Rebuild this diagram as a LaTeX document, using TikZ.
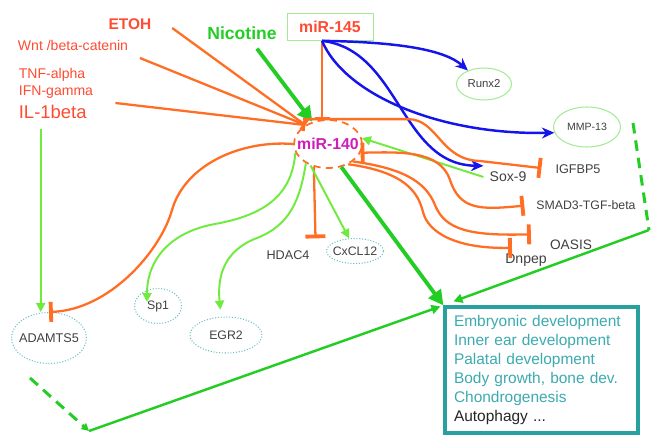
\documentclass[tikz,border=0pt]{standalone}
\usepackage{fontspec}
\setmainfont{Liberation Sans}
\usetikzlibrary{arrows.meta,shapes.geometric}

\definecolor{inhib}{RGB}{255,110,35}
\definecolor{actgreen}{RGB}{110,235,60}
\definecolor{fbgreen}{RGB}{35,205,35}
\definecolor{mirblue}{RGB}{20,20,235}
\definecolor{stimred}{RGB}{255,75,50}
\definecolor{mirpink}{RGB}{205,30,185}
\definecolor{boxteal}{RGB}{40,160,160}
\definecolor{outteal}{RGB}{60,170,175}
\definecolor{dotcyan}{RGB}{110,190,200}
\definecolor{palegreen}{RGB}{165,235,150}

\newcommand{\inell}[1]{\makebox[0pt]{#1}}

\begin{document}
\begin{tikzpicture}[
    x=0.02cm, y=-0.02cm,
    >={Triangle[length=1.8mm,width=1.8mm]},
    stim/.style={text=stimred, font=\fontsize{8}{9}\selectfont, inner sep=2pt},
    mirna/.style={font=\bfseries\fontsize{9}{10}\selectfont},
    gene/.style={text=black!75, font=\fontsize{7.2}{8}\selectfont},
    target/.style={ellipse, draw=#1, line width=0.6pt, text=black!75,
        inner sep=0pt, font=\fontsize{7}{8}\selectfont},
    cyto/.style={target=dotcyan, densely dotted},
    block/.style={draw=inhib, line width=1.3pt, -{Bar[width=4mm,line width=2.2pt]}},
    dual/.style={{Bar[width=4mm,line width=2.2pt]}-{Bar[width=4mm,line width=2.2pt]}},
    act/.style={draw=actgreen, line width=1.1pt, ->},
    strongact/.style={draw=fbgreen, line width=2.2pt, -{Triangle[length=3mm,width=3mm]}},
    push/.style={draw=mirblue, line width=1.4pt, -{Stealth[length=2.5mm,width=2.2mm]}},
    feed/.style={draw=fbgreen, line width=1.4pt}
]
\useasboundingbox (0,0) rectangle (651,435);

% upstream signals
\node[stim, font=\bfseries\fontsize{8.8}{10}\selectfont] (etoh) at (130,24) {ETOH};
\node[stim] (wnt) at (73,45) {Wnt /beta-catenin};
\node[stim, anchor=west] (tnf) at (15,75) {TNF-alpha};
\node[stim, anchor=west] (ifn) at (15,92) {IFN-gamma};
\node[stim, anchor=west, font=\fontsize{10.5}{12}\selectfont] (il1) at (15,112) {IL-1beta};
\node[mirna, text=fbgreen, font=\bfseries\fontsize{10}{11}\selectfont] (nicotine) at (242,33) {Nicotine};

% the two microRNAs
\node[mirna, text=stimred, draw=palegreen, minimum width=1.72cm, minimum height=0.54cm] (mir145) at (330,27) {miR-145};
\node[mirna, ellipse, draw=inhib, line width=1pt, dash pattern=on 4pt off 3pt,
    minimum width=1.36cm, minimum height=0.96cm, inner sep=0pt, text=mirpink] (mir140) at (328,144) {\inell{miR-140}};

% targets
\node[target=palegreen, minimum width=1.1cm, minimum height=0.64cm, font=\fontsize{6.5}{7}\selectfont] (runx2) at (484,84) {\inell{Runx2}};
\node[target=palegreen, minimum width=1.34cm, minimum height=0.8cm, font=\fontsize{6}{7}\selectfont] (mmp13) at (587,127) {\inell{MMP-13}};
\node[gene] (igfbp5) at (578,169) {IGFBP5};
\node[gene, font=\fontsize{8}{9}\selectfont] (sox9) at (508,177) {Sox-9};
\node[gene, font=\fontsize{7}{8}\selectfont] (smad3) at (586,205) {SMAD3-TGF-beta};
\node[gene, font=\fontsize{7.8}{9}\selectfont] (oasis) at (571,245) {OASIS};
\node[gene, font=\fontsize{8}{9}\selectfont] (dnpep) at (526,260) {Dnpep};
\node[gene] (hdac4) at (288,255) {HDAC4};
\node[cyto, minimum width=1.14cm, minimum height=0.5cm] (cxcl12) at (355,251) {\inell{CxCL12}};
\node[cyto, minimum width=0.94cm, minimum height=0.7cm] (sp1) at (158,306) {\inell{Sp1}};
\node[cyto, minimum width=1.44cm, minimum height=0.72cm] (egr2) at (226,335) {\inell{EGR2}};
\node[cyto, minimum width=1.5cm, minimum height=1.02cm, font=\fontsize{7.2}{8}\selectfont] (adamts5) at (49,338) {\inell{ADAMTS5}};

% outcomes
\node[draw=boxteal, line width=1.8pt, minimum width=3.86cm, minimum height=2.52cm,
    text width=3.5cm, align=left, text=outteal, font=\fontsize{8.8}{10.8}\selectfont] (outcome) at (541.5,370)
    {Embryonic development\\Inner ear development\\Palatal development\\Body growth, bone dev.\\Chondrogenesis\\\textcolor{black!85}{Autophagy ...}};

% signals converging on miR-140
\draw[block, -{Bar[width=2.5mm,line width=1.5pt]}] ([shift={(17,4)}]etoh.east) -- (mir140.140);
\draw[block, -{Bar[width=2.5mm,line width=1.5pt]}] ([shift={(8,13)}]wnt.east) -- (mir140.140);
\draw[block, -{Bar[width=2.5mm,line width=1.5pt]}] ([shift={(25,-9)}]il1.east) -- (mir140.140);
\draw[strongact] ([shift={(15,3)}]nicotine.south) -- (mir140.125);
\draw[block, -{Bar[width=3mm,line width=1.3pt]}] ([shift={(-8,0)}]mir145.south) -- ([shift={(-6,0)}]mir140.north);

% miR-145 targets
\draw[push] ([shift={(-8,0)}]mir145.south) .. controls (400,42) and (445,50) .. (runx2.140);
\draw[push] ([shift={(-8,0)}]mir145.south) .. controls (345,95) and (440,135) .. (mmp13.190);
\draw[push] ([shift={(-8,0)}]mir145.south) .. controls (400,50) and (400,165) .. (sox9.north west);
\draw[act] (sox9.west) -- (mir140.10);

% miR-140 repression
\draw[block, shorten >=4.5pt] ([shift={(-25,0)}]mir140.north) -- ++(105,0) .. controls +(30,0) and (440,160) .. (480,161) -- (igfbp5.west);
\draw[block, dual, shorten >=3.4pt] (mir140.-15) .. controls (400,152) and (440,150) .. (450,180) .. controls (460,210) and (480,210) .. (smad3.west);
\draw[block, shorten >=7.4pt] (mir140.-35) .. controls (400,168) and (425,180) .. (435,205) .. controls (445,230) and (470,236) .. (oasis.north west);
\draw[block, shorten >=8pt] (mir140.-45) .. controls (405,172) and (418,192) .. (423,212) .. controls (428,232) and (455,249) .. (dnpep.north);
\draw[block, shorten >=3.4pt] (mir140.-122) -- (hdac4.north east);
\draw[block] (mir140.west) .. controls (240,140) and (185,165) .. (172,210) .. controls (161,250) and (110,310) .. (adamts5.north);

% miR-140 activation
\draw[act] (mir140.-129) -- (cxcl12.115);
\draw[act, shorten >=4pt] (mir140.-139) .. controls (300,200) and (290,225) .. (257,238) .. controls (225,250) and (217,275) .. (egr2.105);
\draw[act] (mir140.195) .. controls (292,195) and (265,215) .. (215,224) .. controls (170,232) and (147,260) .. ([shift={(-11,-4)}]sp1.center);
\draw[act] ([shift={(-12,6)}]il1.south) coordinate (ilfoot) -- (ilfoot |- adamts5.north);

% feedback to the outcome box
\coordinate (fbtop) at (633,123);
\coordinate (fbright) at (649,230);
\coordinate (fbleft) at (30,378);
\coordinate (fbfoot) at (89,431);
\draw[feed, line width=1.7pt, dash pattern=on 6pt off 4pt] (fbtop) -- (fbright);
\draw[feed, ->] (fbright) -- ([shift={(10,-4)}]outcome.north west);
\draw[feed, line width=1.7pt, dash pattern=on 6pt off 4pt, -{Triangle[length=1.5mm,width=1.5mm]}] (fbleft) -- (fbfoot);
\draw[feed, ->] (fbfoot) -- ([shift={(-3,1)}]outcome.north west);
\draw[strongact] (mir140.-60) -- (outcome.north west);

\end{tikzpicture}
\end{document}
